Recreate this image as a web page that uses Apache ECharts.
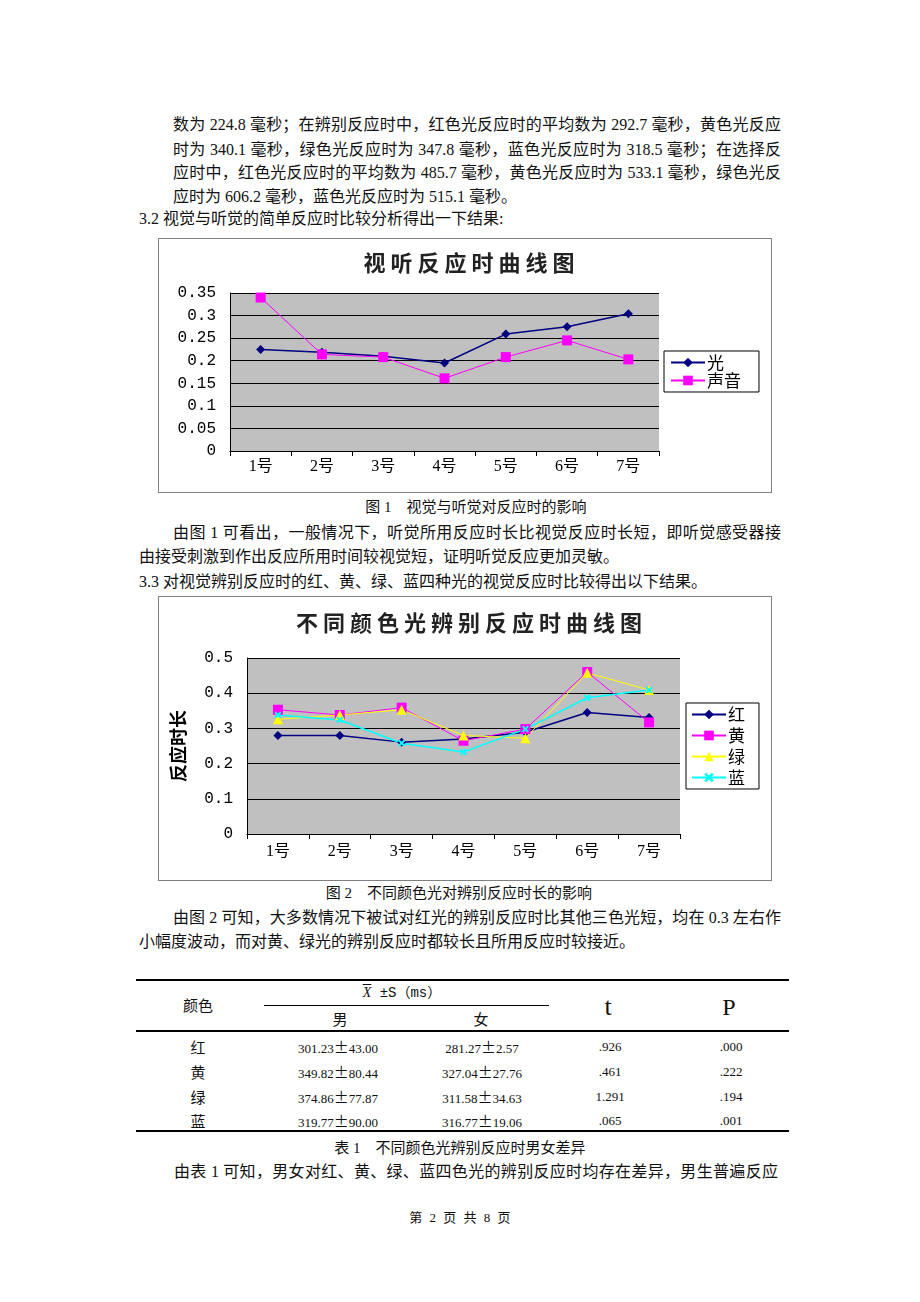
<!DOCTYPE html>
<html>
<head>
<meta charset="utf-8">
<script src="https://cdn.jsdelivr.net/npm/echarts@6/dist/echarts.min.js"></script>
<style>
  html, body { margin:0; padding:0; background:#fff; }
  #page { position:relative; width:920px; height:1302px; background:#fff; overflow:hidden;
          font-family:"Liberation Serif","Noto Sans CJK SC",serif; color:#111; }
  .ln { position:absolute; font-size:16px; line-height:20px; height:20px; white-space:nowrap; }
  .full { text-align:justify; text-align-last:justify; white-space:normal; }
  .c { position:absolute; text-align:center; white-space:nowrap; }
  .rule { position:absolute; background:#000; }
  .chartbox { position:absolute; border:1px solid #808080; box-sizing:border-box; background:#fff; }
</style>
</head>
<body>
<div id="page">
  <div class="ln full" style="left:173px;top:115px;width:608px;">数为 224.8 毫秒；在辨别反应时中，红色光反应时的平均数为 292.7 毫秒，黄色光反应</div>
  <div class="ln full" style="left:173px;top:140px;width:608px;">时为 340.1 毫秒，绿色光反应时为 347.8 毫秒，蓝色光反应时为 318.5 毫秒；在选择反</div>
  <div class="ln full" style="left:173px;top:163px;width:608px;">应时中，红色光反应时的平均数为 485.7 毫秒，黄色光反应时为 533.1 毫秒，绿色光反</div>
  <div class="ln" style="left:173px;top:187px;">应时为 606.2 毫秒，蓝色光反应时为 515.1 毫秒。</div>
  <div class="ln" style="left:139px;top:209px;">3.2 视觉与听觉的简单反应时比较分析得出一下结果:</div>

  <div id="chart1" class="chartbox" style="left:158px;top:238px;width:614px;height:255px;"></div>

  <div class="c" style="left:276px;width:400px;top:497px;font-size:15px;line-height:20px;">图 1&nbsp;&nbsp;&nbsp;&nbsp;视觉与听觉对反应时的影响</div>
  <div class="ln full" style="left:173px;top:523px;width:608px;">由图 1 可看出，一般情况下，听觉所用反应时长比视觉反应时长短，即听觉感受器接</div>
  <div class="ln" style="left:139px;top:547px;">由接受刺激到作出反应所用时间较视觉短，证明听觉反应更加灵敏。</div>
  <div class="ln" style="left:139px;top:572px;">3.3 对视觉辨别反应时的红、黄、绿、蓝四种光的视觉反应时比较得出以下结果。</div>

  <div id="chart2" class="chartbox" style="left:158px;top:596px;width:614px;height:285px;"></div>

  <div class="c" style="left:259px;width:400px;top:883px;font-size:15px;line-height:20px;">图 2&nbsp;&nbsp;&nbsp;&nbsp;不同颜色光对辨别反应时长的影响</div>
  <div class="ln full" style="left:173px;top:908px;width:608px;">由图 2 可知，大多数情况下被试对红光的辨别反应时比其他三色光短，均在 0.3 左右作</div>
  <div class="ln" style="left:139px;top:932px;">小幅度波动，而对黄、绿光的辨别反应时都较长且所用反应时较接近。</div>

  <div id="table"></div>

  <div class="c" style="left:260px;width:400px;top:1138px;font-size:15px;line-height:20px;">表 1&nbsp;&nbsp;&nbsp;&nbsp;不同颜色光辨别反应时男女差异</div>
  <div class="ln full" style="left:174px;top:1162px;width:604px;">由表 1 可知，男女对红、黄、绿、蓝四色光的辨别反应时均存在差异，男生普遍反应</div>
  <div class="c" style="left:360px;width:200px;top:1210px;font-size:13px;line-height:16px;word-spacing:4px;">第 2 页 共 8 页</div>
</div>

<script>
// ---------- data ----------
var categories = ['1号', '2号', '3号', '4号', '5号', '6号', '7号'];
var lightValues = [0.225, 0.219, 0.210, 0.195, 0.259, 0.275, 0.304];
var soundValues = [0.340, 0.214, 0.208, 0.161, 0.208, 0.245, 0.203];
var redValues = [0.280, 0.280, 0.261, 0.270, 0.289, 0.345, 0.331];
var yellowValues = [0.353, 0.338, 0.359, 0.265, 0.298, 0.460, 0.317];
var greenValues = [0.326, 0.338, 0.353, 0.280, 0.272, 0.458, 0.409];
var blueValues = [0.338, 0.324, 0.258, 0.233, 0.298, 0.387, 0.409];

var tableColors = ['红', '黄', '绿', '蓝'];
var tableMale = ['301.23±43.00', '349.82±80.44', '374.86±77.87', '319.77±90.00'];
var tableFemale = ['281.27±2.57', '327.04±27.76', '311.58±34.63', '316.77±19.06'];
var tableT = ['.926', '.461', '1.291', '.065'];
var tableP = ['.000', '.222', '.194', '.001'];

// ---------- charts ----------
var CJK = 'Noto Sans CJK SC';
var crossPath = 'path://M2,0 L5,3 L8,0 L10,2 L7,5 L10,8 L8,10 L5,7 L2,10 L0,8 L3,5 L0,2 Z';

function baseAxes(max, interval, labelMargin) {
  return {
    xAxis: {
      type: 'category', data: categories, boundaryGap: true,
      axisLine: { lineStyle: { color: '#000', width: 1 } },
      axisTick: { show: true, inside: false, length: 5, lineStyle: { color: '#000' } },
      axisLabel: { color: '#000', fontSize: 16, fontFamily: '"Liberation Serif","' + CJK + '"', margin: labelMargin }
    },
    yAxis: {
      type: 'value', min: 0, max: max, interval: interval,
      axisLine: { show: true, lineStyle: { color: '#000', width: 1 } },
      axisTick: { show: false },
      axisLabel: { color: '#000', fontSize: 16, fontFamily: 'Liberation Mono', margin: 14 },
      splitLine: { show: true, lineStyle: { color: '#000', width: 1 } }
    }
  };
}

function lineSeries(name, data, color, symbol, size, width) {
  return {
    name: name, type: 'line', data: data,
    symbol: symbol, symbolSize: size, showSymbol: true,
    lineStyle: { color: color, width: width },
    itemStyle: { color: color, borderWidth: 0 },
    emphasis: { disabled: true }
  };
}

var chart1 = echarts.init(document.getElementById('chart1'), null, { renderer: 'canvas' });
var ax1 = baseAxes(0.35, 0.05, 8);
chart1.setOption({
  animation: false,
  backgroundColor: '#fff',
  title: {
    text: '视 听 反 应 时 曲 线 图', left: 305, textAlign: 'center', top: 8,
    textStyle: { fontSize: 22, fontWeight: 'bold', color: '#222', fontFamily: CJK }
  },
  grid: { left: 71, right: 112, top: 54, bottom: 41, show: true, backgroundColor: '#C0C0C0', borderWidth: 0 },
  legend: {
    orient: 'vertical', left: 505, top: 112,
    borderColor: '#000', borderWidth: 1, backgroundColor: '#fff',
    padding: [3, 18, 3, 6], itemGap: 1, itemWidth: 34, itemHeight: 12,
    textStyle: { fontSize: 17, color: '#000', fontFamily: CJK, padding: [0, 0, 0, -3] },
    data: ['光', '声音']
  },
  xAxis: ax1.xAxis, yAxis: ax1.yAxis,
  series: [
    lineSeries('光', lightValues, '#000080', 'diamond', 9, 1.5),
    lineSeries('声音', soundValues, '#FF00FF', 'rect', 10, 1)
  ]
});

var chart2 = echarts.init(document.getElementById('chart2'), null, { renderer: 'canvas' });
var ax2 = baseAxes(0.5, 0.1, 10);
ax2.yAxis.name = '反应时长';
ax2.yAxis.nameLocation = 'middle';
ax2.yAxis.nameGap = 60;
ax2.yAxis.nameRotate = 90;
ax2.yAxis.nameTextStyle = { fontSize: 18, fontWeight: 'bold', color: '#000', fontFamily: CJK };
chart2.setOption({
  animation: false,
  backgroundColor: '#fff',
  title: {
    text: '不 同 颜 色 光 辨 别 反 应 时 曲 线 图', left: 305, textAlign: 'center', top: 10,
    textStyle: { fontSize: 22, fontWeight: 'bold', color: '#222', fontFamily: CJK }
  },
  grid: { left: 88, right: 91, top: 61, bottom: 46, show: true, backgroundColor: '#C0C0C0', borderWidth: 0 },
  legend: {
    orient: 'vertical', left: 527, top: 106,
    borderColor: '#000', borderWidth: 1, backgroundColor: '#fff',
    padding: [3, 14, 3, 5], itemGap: 4, itemWidth: 34, itemHeight: 12,
    textStyle: { fontSize: 17, color: '#000', fontFamily: CJK, padding: [0, 0, 0, -3] },
    data: ['红', '黄', '绿', '蓝']
  },
  xAxis: ax2.xAxis, yAxis: ax2.yAxis,
  series: [
    lineSeries('红', redValues, '#000080', 'diamond', 9, 1.5),
    lineSeries('黄', yellowValues, '#FF00FF', 'rect', 10, 1),
    lineSeries('绿', greenValues, '#FFFF00', 'triangle', 10, 1),
    lineSeries('蓝', blueValues, '#00FFFF', crossPath, 7, 1.5)
  ]
});

// ---------- table ----------
(function () {
  var page = document.getElementById('page');
  function el(html, cx, cy, size, lh, fam) {
    var d = document.createElement('div');
    d.className = 'c';
    d.style.left = (cx - 100) + 'px';
    d.style.width = '200px';
    d.style.top = (cy - lh / 2) + 'px';
    d.style.lineHeight = lh + 'px';
    d.style.fontSize = size + 'px';
    if (fam) d.style.fontFamily = fam;
    d.innerHTML = html;
    page.appendChild(d);
  }
  function rule(x, y, w, h) {
    var d = document.createElement('div');
    d.className = 'rule';
    d.style.left = x + 'px'; d.style.top = y + 'px';
    d.style.width = w + 'px'; d.style.height = h + 'px';
    page.appendChild(d);
  }
  rule(136, 979, 653, 2);
  rule(264, 1005, 285, 1);
  rule(136, 1030, 653, 2);
  rule(136, 1130, 653, 2);

  el('颜色', 198, 1005, 15, 20, '"Noto Sans CJK SC"');
  el('<span style="font-family:\'Liberation Serif\';font-style:italic;text-decoration:overline;">X</span> ±S（ms）', 402, 993, 14, 18, '"Liberation Mono","Noto Sans CJK SC"');
  el('男', 340, 1019, 15, 20, '"Noto Sans CJK SC"');
  el('女', 481, 1019, 15, 20, '"Noto Sans CJK SC"');
  el('t', 608, 1007, 26, 30, '"Liberation Serif"');
  el('P', 729, 1007, 24, 30, '"Liberation Serif"');

  var rowsY = [1047, 1072, 1097, 1121];
  for (var i = 0; i < tableColors.length; i++) {
    var y = rowsY[i];
    el(tableColors[i], 198, y, 15, 20, '"Noto Sans CJK SC"');
    el(tableMale[i].replace('±', '<span style="font-family:\'Noto Sans CJK SC\';font-size:15px;">±</span>'), 338, y, 13, 18, '"Liberation Serif"');
    el(tableFemale[i].replace('±', '<span style="font-family:\'Noto Sans CJK SC\';font-size:15px;">±</span>'), 482, y, 13, 18, '"Liberation Serif"');
    el(tableT[i], 610, y, 13, 18, '"Liberation Serif"');
    el(tableP[i], 731, y, 13, 18, '"Liberation Serif"');
  }
})();
</script>
</body>
</html>
